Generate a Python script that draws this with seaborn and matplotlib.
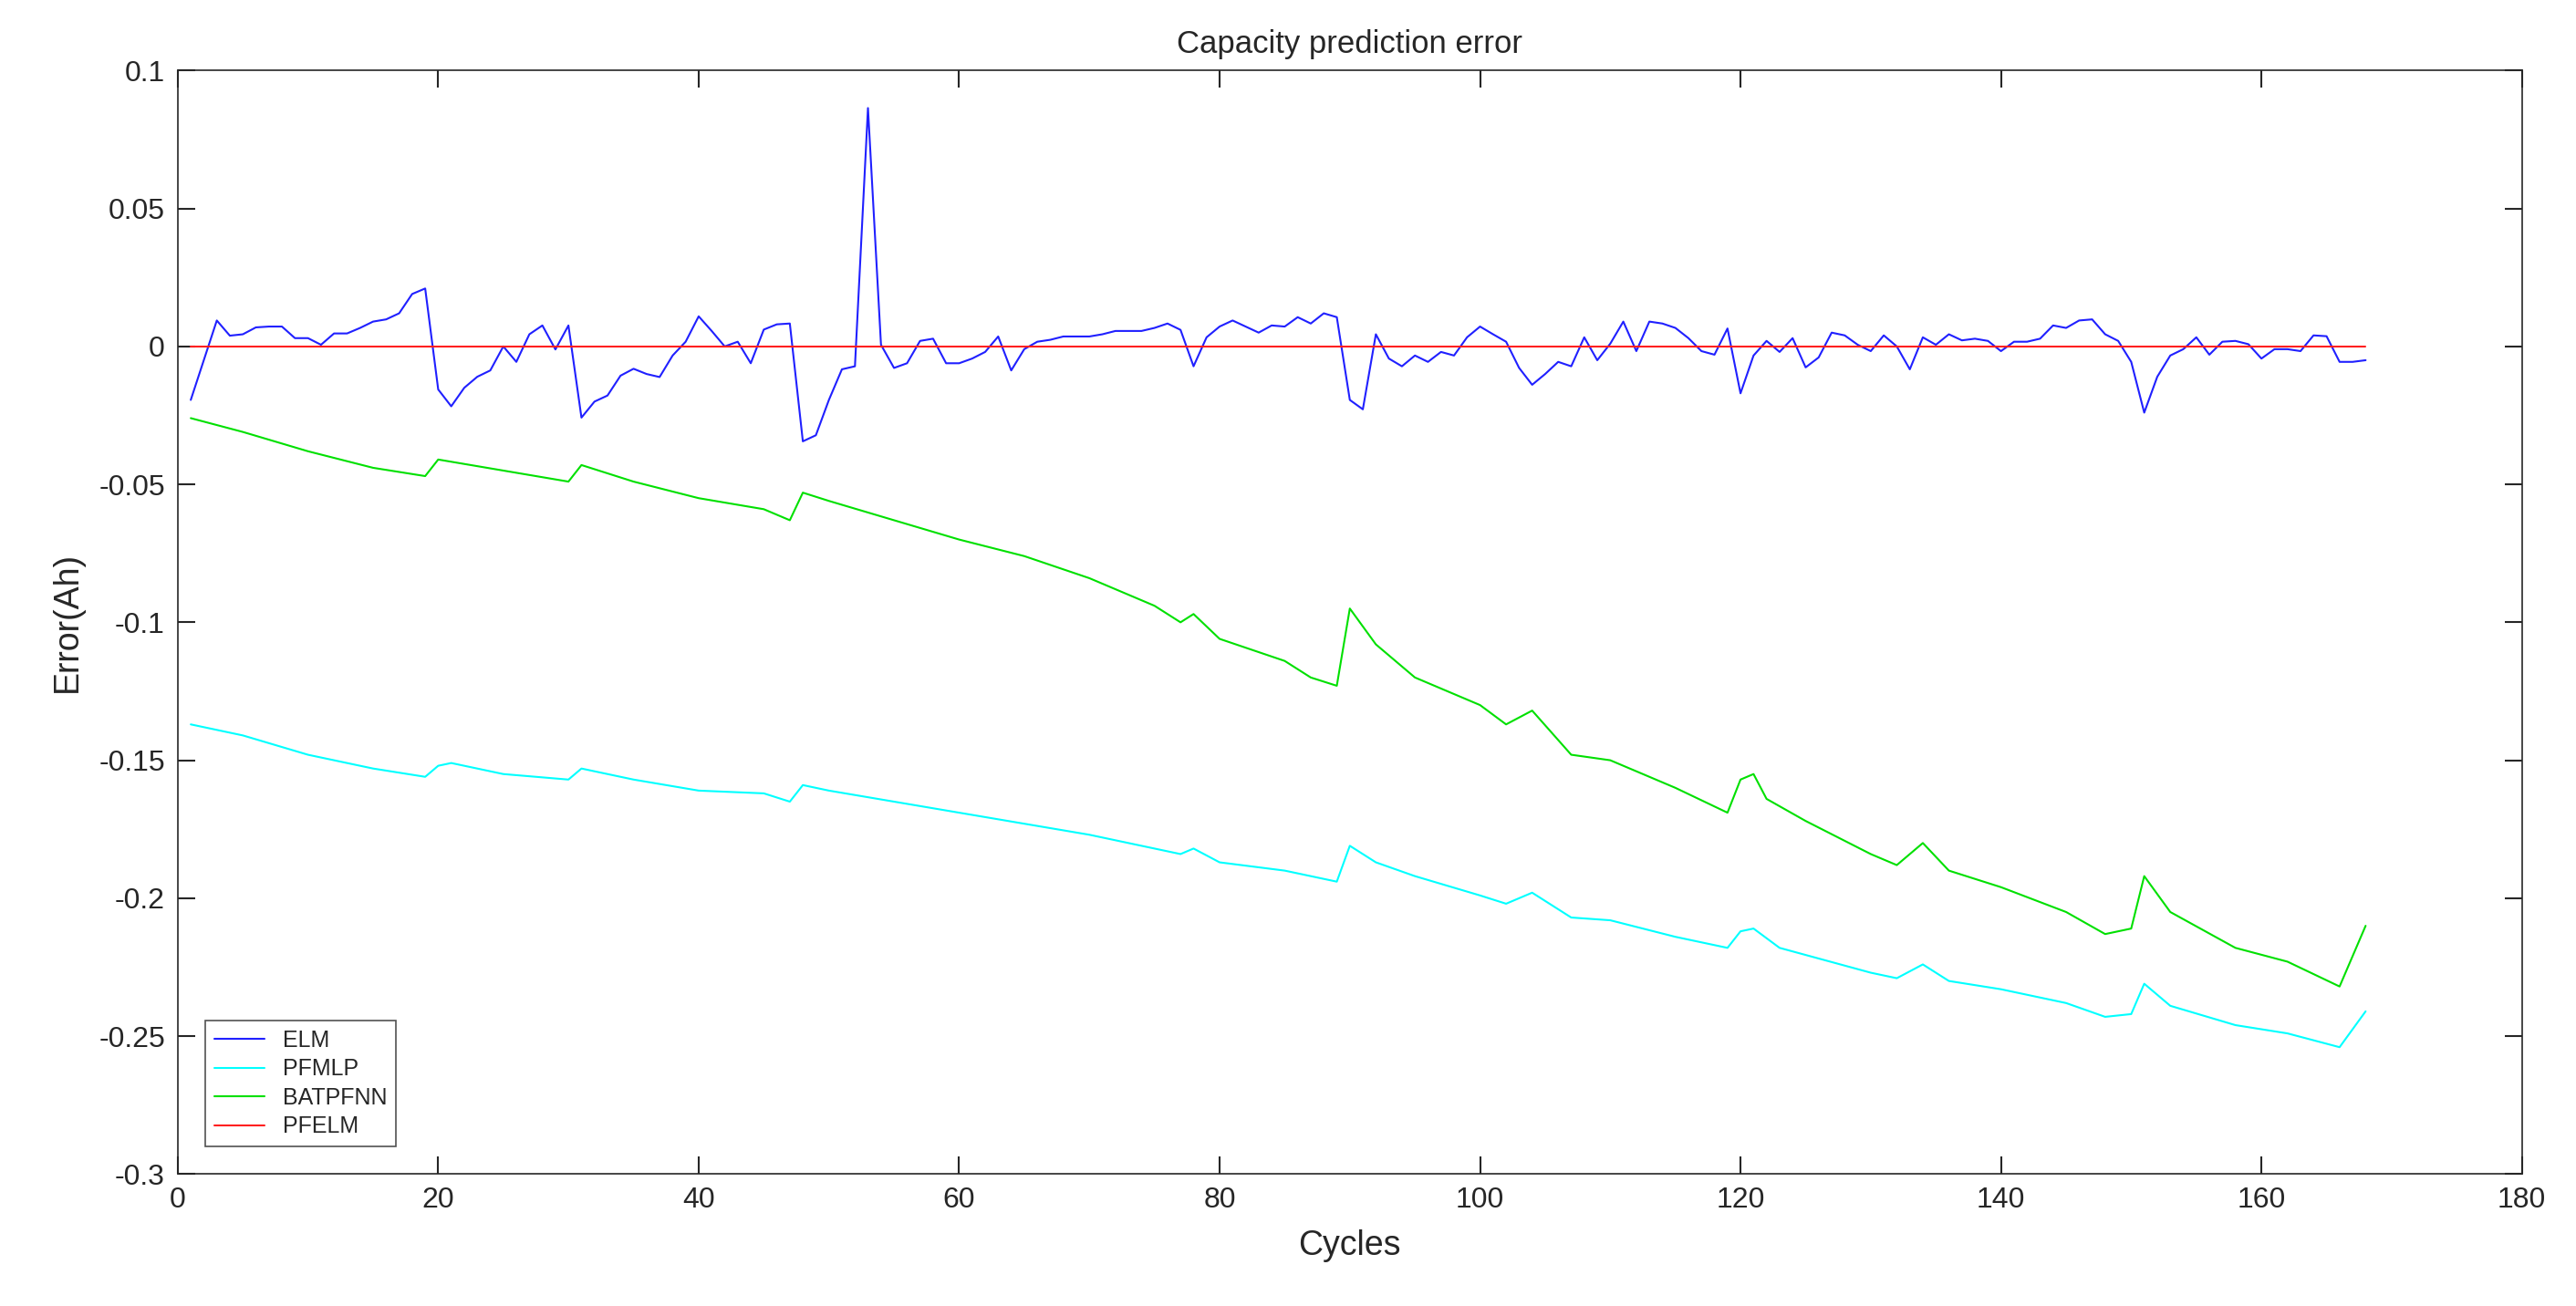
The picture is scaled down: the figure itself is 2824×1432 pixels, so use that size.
import matplotlib
matplotlib.use("Agg")
import matplotlib.pyplot as plt
import seaborn as sns
import pandas as pd
import numpy as np

elm = [-0.0194,-0.005,0.0094,0.0039,0.0044,0.0069,0.0072,0.0072,0.003,0.003,
       0.0006,0.0047,0.0047,0.0067,0.009,0.0098,0.012,0.019,0.021,-0.0156,
       -0.0217,-0.015,-0.011,-0.0087,0.0,-0.0056,0.0044,0.0076,-0.0011,0.0076,
       -0.0258,-0.020,-0.0178,-0.0106,-0.0081,-0.010,-0.0111,-0.0033,0.0017,0.0109,
       0.0056,0.0,0.0017,-0.0061,0.0061,0.008,0.0083,-0.0344,-0.0322,-0.0194,
       -0.0083,-0.0072,0.0864,0.0006,-0.0078,-0.0061,0.002,0.0028,-0.0061,-0.0061,
       -0.0044,-0.002,0.0036,-0.0087,-0.001,0.0017,0.0024,0.0036,0.0036,0.0036,
       0.0044,0.0056,0.0056,0.0056,0.0067,0.0083,0.006,-0.0072,0.0033,0.0072,
       0.0094,0.0072,0.005,0.0076,0.0072,0.0106,0.0083,0.012,0.0106,-0.0194,
       -0.0228,0.0044,-0.0044,-0.0072,-0.0033,-0.0056,-0.002,-0.0033,0.0033,0.0072,
       0.0044,0.0017,-0.0078,-0.0139,-0.010,-0.0056,-0.0072,0.0033,-0.005,0.001,
       0.009,-0.0017,0.009,0.0083,0.0067,0.003,-0.0017,-0.003,0.0065,-0.017,
       -0.0033,0.002,-0.002,0.003,-0.0076,-0.004,0.005,0.004,0.0006,-0.0017,
       0.004,0.0,-0.0083,0.0033,0.0006,0.0044,0.0022,0.0028,0.002,-0.0017,
       0.0017,0.0017,0.0028,0.0076,0.0067,0.0094,0.0098,0.0044,0.002,-0.0056,
       -0.024,-0.011,-0.0033,-0.001,0.0033,-0.003,0.0017,0.002,0.0008,-0.0044,
       -0.001,-0.001,-0.0017,0.004,0.0037,-0.0056,-0.0056,-0.005]
elm_cycles = list(range(1, len(elm) + 1))

bat_cycles = [1,5,10,15,19,20,25,30,31,35,40,45,47,48,50,55,60,65,70,75,77,78,80,85,87,89,90,92,95,100,
              102,104,107,110,115,119,120,121,122,125,130,132,134,136,140,145,148,150,151,153,158,162,166,168]
bat = [-0.026,-0.031,-0.038,-0.044,-0.047,-0.041,-0.045,-0.049,-0.043,-0.049,-0.055,-0.059,-0.063,-0.053,
       -0.056,-0.063,-0.070,-0.076,-0.084,-0.094,-0.100,-0.097,-0.106,-0.114,-0.120,-0.123,-0.095,-0.108,
       -0.120,-0.130,-0.137,-0.132,-0.148,-0.150,-0.160,-0.169,-0.157,-0.155,-0.164,-0.172,-0.184,-0.188,
       -0.180,-0.190,-0.196,-0.205,-0.213,-0.211,-0.192,-0.205,-0.218,-0.223,-0.232,-0.210]

mlp_cycles = [1,5,10,15,19,20,21,25,30,31,35,40,45,47,48,50,55,60,65,70,75,77,78,80,85,89,90,92,95,100,
              102,104,107,110,115,119,120,121,123,130,132,134,136,140,145,148,150,151,153,158,162,166,168]
mlp = [-0.137,-0.141,-0.148,-0.153,-0.156,-0.152,-0.151,-0.155,-0.157,-0.153,-0.157,-0.161,-0.162,-0.165,
       -0.159,-0.161,-0.165,-0.169,-0.173,-0.177,-0.182,-0.184,-0.182,-0.187,-0.190,-0.194,-0.181,-0.187,
       -0.192,-0.199,-0.202,-0.198,-0.207,-0.208,-0.214,-0.218,-0.212,-0.211,-0.218,-0.227,-0.229,-0.224,
       -0.230,-0.233,-0.238,-0.243,-0.242,-0.231,-0.239,-0.246,-0.249,-0.254,-0.241]

pfelm = [0.0] * len(elm)

xticks = [0,20,40,60,80,100,120,140,160,180]
yticks = [0.1,0.05,0,-0.05,-0.1,-0.15,-0.2,-0.25,-0.3]
ytick_labels = ["0.1","0.05","0","-0.05","-0.1","-0.15","-0.2","-0.25","-0.3"]

sns.set_theme(style="white")
plt.rcParams['font.family'] = ['Liberation Sans', 'DejaVu Sans']

fig = plt.figure(figsize=(28.24, 14.32), dpi=100)
ax = fig.add_axes([0.069, 0.101, 0.910, 0.845])

lw = 1.5
sns.lineplot(x=elm_cycles, y=elm, ax=ax, color="#2020ff", lw=lw, label="ELM")
sns.lineplot(x=mlp_cycles, y=mlp, ax=ax, color="#00ffff", lw=lw, label="PFMLP")
sns.lineplot(x=bat_cycles, y=bat, ax=ax, color="#00e000", lw=lw, label="BATPFNN")
sns.lineplot(x=elm_cycles, y=pfelm, ax=ax, color="#ff2020", lw=lw, label="PFELM")

ax.set_xlim(0, 180)
ax.set_ylim(-0.3, 0.1)
ax.set_xticks(xticks)
ax.set_yticks(yticks)
ax.set_yticklabels(ytick_labels)
ax.tick_params(direction="in", length=14, width=1.5, labelsize=23, colors="#262626",
               top=True, right=True, bottom=True, left=True, pad=10)
for s in ax.spines.values():
    s.set_color("#262626")
    s.set_linewidth(1.2)
ax.set_title("Capacity prediction error", fontsize=25, pad=14)
ax.set_xlabel("Cycles", fontsize=27, labelpad=12)
ax.set_ylabel("Error(Ah)", fontsize=27, labelpad=12)
leg = ax.legend(loc="lower left", fontsize=18, frameon=True, fancybox=False,
                edgecolor="#262626", handlelength=2.2, borderaxespad=1.2, labelspacing=0.3)
leg.get_frame().set_linewidth(1.2)

fig.savefig("out.png", dpi=100)
